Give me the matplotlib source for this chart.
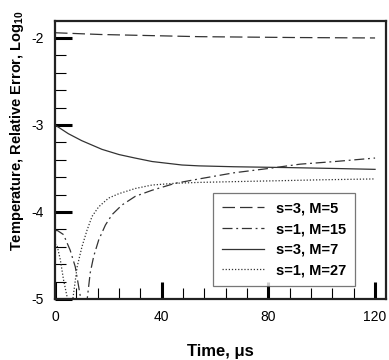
import matplotlib
matplotlib.use("Agg")
import matplotlib.pyplot as plt
from matplotlib.ticker import MultipleLocator

plt.rcParams['font.family'] = ['Liberation Sans', 'DejaVu Sans']
plt.rcParams['mathtext.fontset'] = 'custom'
plt.rcParams['mathtext.rm'] = 'Liberation Sans'
plt.rcParams['mathtext.bf'] = 'Liberation Sans:bold'

# s=3, M=5 (dashed)
t_a = [0, 17, 54, 90, 120]
y_a = [-1.94, -1.96, -1.985, -1.995, -2.0]

# s=1, M=15 (dash-dot)
t_b = [0, 0.75, 3.2, 5.7, 7.6, 9.5, 10.7, 12, 13.2, 14.5, 16.4, 18.9, 21.4, 25.1, 30.1, 36.4,
       45.1, 54, 67, 80, 92, 105, 120]
y_b = [-4.22, -4.21, -4.26, -4.44, -4.63, -4.97, -5.6, -5.02, -4.70, -4.51, -4.32, -4.15,
       -4.03, -3.92, -3.82, -3.75, -3.67, -3.62, -3.55, -3.50, -3.45, -3.42, -3.38]

# s=3, M=7 (solid)
t_c = [0, 5, 10, 17.6, 24, 30, 36.4, 47.6, 54, 67, 88, 105, 120]
y_c = [-3.0, -3.10, -3.18, -3.28, -3.34, -3.38, -3.42, -3.46, -3.47, -3.48, -3.49, -3.50, -3.51]

# s=1, M=27 (dotted)
t_d = [0, 0.75, 2, 3.2, 4.5, 5.5, 6.6, 8.3, 10.1, 12, 13.9, 16.4, 20.1, 23.9, 30.1, 36.4,
       45.1, 54, 69, 85, 100, 120]
y_d = [-4.37, -4.38, -4.55, -4.78, -4.97, -5.6, -5.02, -4.63, -4.40, -4.21, -4.05, -3.94,
       -3.84, -3.79, -3.73, -3.69, -3.67, -3.66, -3.65, -3.64, -3.63, -3.62]

labels = ["s=3, M=5", "s=1, M=15", "s=3, M=7", "s=1, M=27"]
xticks = [0, 40, 80, 120]
yticks = [-5, -4, -3, -2]

fig = plt.figure(figsize=(3.89, 3.60), dpi=100)
ax = fig.add_axes([55/389, 61/360, 331/389, 278/360])

lc = '#333333'
lw = 0.9
ax.plot(t_a, y_a, color=lc, lw=lw, linestyle=(0, (10, 4)), label=labels[0])
ax.plot(t_b, y_b, color=lc, lw=lw, linestyle=(0, (8, 3, 1.5, 3)), label=labels[1])
ax.plot(t_c, y_c, color=lc, lw=lw, linestyle='-', label=labels[2])
ax.plot(t_d, y_d, color=lc, lw=lw, linestyle=(0, (1, 1.5)), label=labels[3])

ax.set_xlim(0, 124.1)
ax.set_ylim(-5, -1.805)
ax.set_xticks(xticks)
ax.set_xticklabels([str(v) for v in xticks])
ax.set_yticks(yticks)
ax.set_yticklabels([str(v) for v in yticks])
ax.xaxis.set_minor_locator(MultipleLocator(8))
ax.yaxis.set_minor_locator(MultipleLocator(0.2))
ax.tick_params(which='major', direction='in', length=12, width=2.2, labelsize=10, pad=8)
ax.tick_params(which='minor', direction='in', length=8, width=0.8)
ax.tick_params(top=False, right=False, which='both')
for s in ax.spines.values():
    s.set_linewidth(1.6)
    s.set_color('#222222')

ax.set_xlabel('Time, μs', fontsize=12, fontweight='bold', labelpad=14)
ax.set_ylabel(r'Temperature, Relative Error, Log$_{\mathbf{10}}$', fontsize=10.5, fontweight='bold')
ax.yaxis.set_label_coords(-0.088, 0.605)

leg = ax.legend(loc='lower right', bbox_to_anchor=(0.906, 0.047), frameon=True, fancybox=False,
                prop={'weight': 'bold', 'size': 10.5}, handlelength=2.9, handletextpad=0.8,
                labelspacing=0.45, borderpad=0.6, borderaxespad=0)
leg.get_frame().set_edgecolor('#555555')
leg.get_frame().set_linewidth(0.9)

fig.savefig('out.png', dpi=100)
